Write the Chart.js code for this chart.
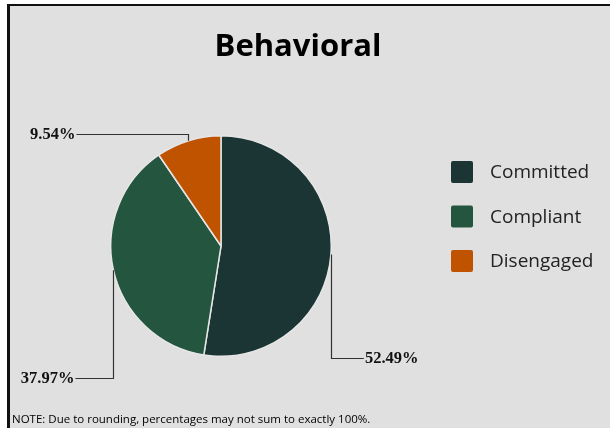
<!DOCTYPE html>
<html>
<head>
<meta charset="utf-8">
<title>Behavioral</title>
<script src="https://cdn.jsdelivr.net/npm/chart.js@4"></script>
<style>
  html, body { margin: 0; padding: 0; background: #fff; }
  #frame {
    position: absolute; left: 7px; top: 4px; width: 603px; height: 424px;
    box-sizing: border-box; border-left: 3px solid #111; border-top: 2px solid #111;
    background: #e0e0e0;
  }
  #chart-behavioral { position: absolute; left: 0; top: 0; }
</style>
</head>
<body>
<div id="frame"></div>
<canvas id="chart-behavioral" width="610" height="428"></canvas>
<script>
'use strict';

/* global Chart */

const categories = ['Committed', 'Compliant', 'Disengaged'];
const percentages = [52.49, 37.97, 9.54];
const sliceColors = ['#1b3535', '#24553f', '#bf5300'];

const TITLE = 'Behavioral';
const NOTE = 'NOTE: Due to rounding, percentages may not sum to exactly 100%.';

// leader line for each slice: vertical drop to centre + dropTo, then horizontal run
const LEADERS = [
  { dropTo: 112, run: 33 },   // Committed: down, then right
  { dropTo: 132, run: -38 },  // Compliant: down, then left
  { dropTo: -112, run: -112 } // Disengaged: up, then left
];

const decorations = {
  id: 'decorations',
  afterDraw(chart) {
    const ctx = chart.ctx;
    const ds = chart.data.datasets[0];
    ctx.save();

    // title
    ctx.fillStyle = '#000';
    ctx.font = 'bold 31px "Open Sans", sans-serif';
    ctx.textAlign = 'center';
    ctx.textBaseline = 'middle';
    ctx.fillText(TITLE, 298, 47);

    // leader lines + percent labels
    const arcs = chart.getDatasetMeta(0).data;
    arcs.forEach((arc, i) => {
      const p = arc.getProps(['x', 'y', 'startAngle', 'endAngle', 'outerRadius'], true);
      const mid = (p.startAngle + p.endAngle) / 2;
      const ex = p.x + Math.cos(mid) * p.outerRadius;
      const ey = p.y + Math.sin(mid) * p.outerRadius;
      const ly = p.y + LEADERS[i].dropTo;
      const lx = ex + LEADERS[i].run;
      ctx.strokeStyle = '#333';
      ctx.lineWidth = 1.2;
      ctx.beginPath();
      ctx.moveTo(Math.round(ex) + 0.5, ey);
      ctx.lineTo(Math.round(ex) + 0.5, Math.round(ly) + 0.5);
      ctx.lineTo(lx, Math.round(ly) + 0.5);
      ctx.stroke();

      ctx.fillStyle = '#111';
      ctx.font = 'bold 16.5px "Liberation Serif", serif';
      ctx.textBaseline = 'middle';
      const right = LEADERS[i].run > 0;
      ctx.textAlign = right ? 'left' : 'right';
      ctx.fillText(ds.data[i].toFixed(2) + '%', right ? lx + 1 : lx - 1, ly + 1);
    });

    // legend
    ctx.font = '19px "Open Sans", sans-serif';
    ctx.textAlign = 'left';
    ctx.textBaseline = 'middle';
    chart.data.labels.forEach((label, i) => {
      const y = 161 + i * 44.5;
      ctx.fillStyle = ds.backgroundColor[i];
      ctx.beginPath();
      ctx.roundRect(451, y, 22, 22, 2);
      ctx.fill();
      ctx.fillStyle = '#222';
      ctx.fillText(label, 490, y + 12);
    });

    // footnote
    ctx.fillStyle = '#000';
    ctx.font = '11.5px "Open Sans", sans-serif';
    ctx.fillText(NOTE, 12, 420);

    ctx.restore();
  }
};

const canvas = document.getElementById('chart-behavioral');
new Chart(canvas, {
  type: 'pie',
  data: {
    labels: categories,
    datasets: [{
      data: percentages,
      backgroundColor: sliceColors,
      borderColor: '#e6e6e6',
      borderWidth: 1.5
    }]
  },
  options: {
    responsive: false,
    animation: false,
    layout: { padding: { left: 110, top: 135, right: 278, bottom: 71 } },
    plugins: {
      legend: { display: false },
      tooltip: { enabled: false }
    }
  },
  plugins: [decorations]
});
</script>
</body>
</html>
